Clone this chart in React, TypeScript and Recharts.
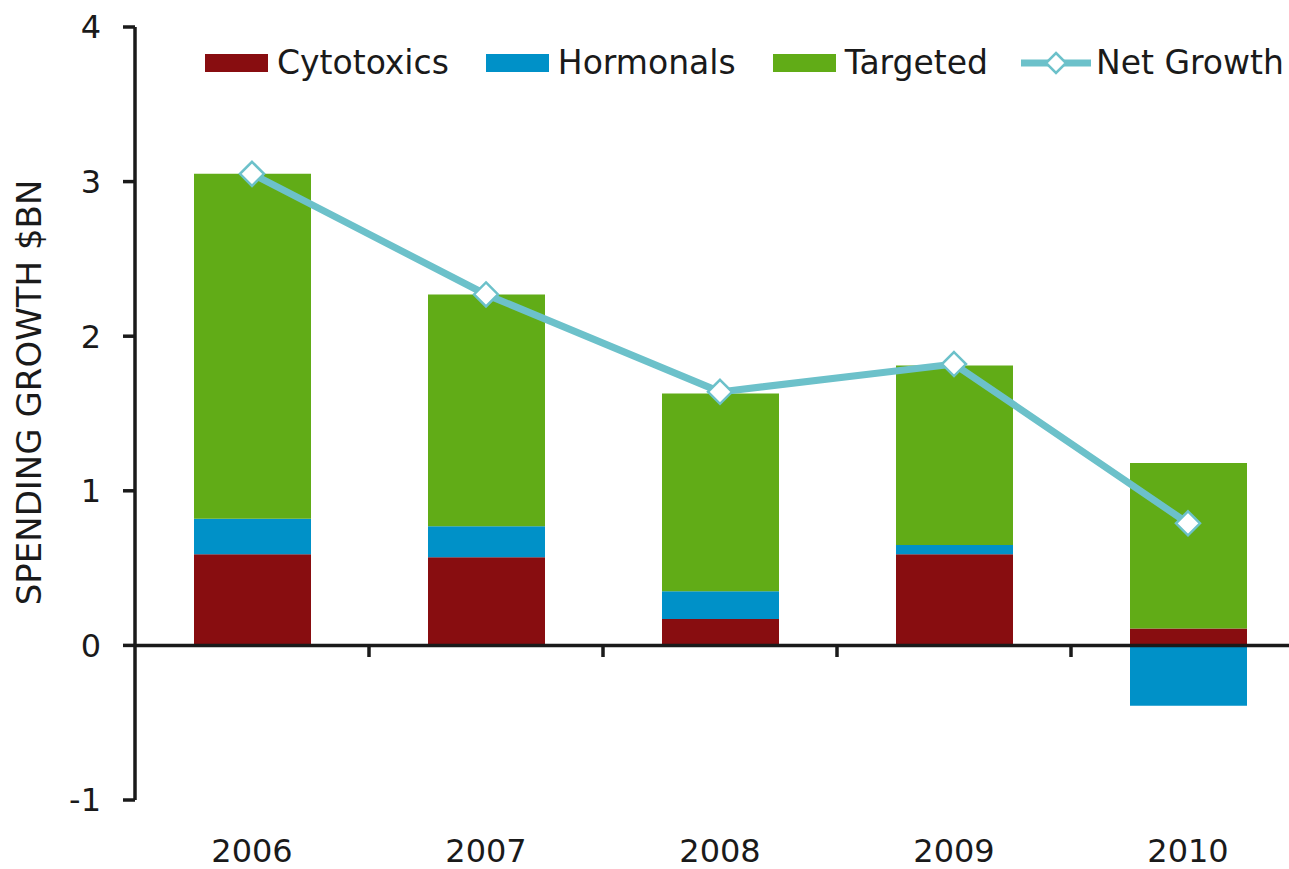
import { ComposedChart, Bar, Line, XAxis, YAxis, ReferenceLine, Legend } from 'recharts'

const YEARS = ['2006', '2007', '2008', '2009', '2010']
const CYTOTOXICS = [0.59, 0.57, 0.17, 0.59, 0.11]
const HORMONALS = [0.23, 0.2, 0.18, 0.06, -0.39]
const TARGETED = [2.23, 1.5, 1.28, 1.16, 1.07]
const NET_GROWTH = [3.05, 2.27, 1.64, 1.82, 0.79]
const Y_TICKS = [-1, 0, 1, 2, 3, 4]
// small tick marks sit on the zero line, at the left edge of these years' bands
const EDGE_YEARS = YEARS.slice(1)

const CYTO_COLOR = '#880d10'
const HORM_COLOR = '#0091c8'
const TARG_COLOR = '#61ac17'
const LINE_COLOR = '#6cc1ca'
const INK = '#1a1a1a'
const FONT = '"DejaVu Sans", Verdana, sans-serif'

const data = YEARS.map((year, i) => ({
  year,
  cytotoxics: CYTOTOXICS[i],
  hormonals: HORMONALS[i],
  targeted: TARGETED[i],
  net: NET_GROWTH[i],
}))

const LEGEND_ITEMS = [
  { name: 'Cytotoxics', color: CYTO_COLOR, kind: 'bar' },
  { name: 'Hormonals', color: HORM_COLOR, kind: 'bar' },
  { name: 'Targeted', color: TARG_COLOR, kind: 'bar' },
  { name: 'Net Growth', color: LINE_COLOR, kind: 'line' },
]

function Diamond(props: { cx?: number; cy?: number; r?: number }) {
  const { cx, cy } = props
  if (cx == null || cy == null) return null
  const r = props.r ?? 12
  return (
    <path
      d={`M${cx},${cy - r}L${cx + r},${cy}L${cx},${cy + r}L${cx - r},${cy}Z`}
      fill="#ffffff"
      stroke={LINE_COLOR}
      strokeWidth={2.5}
    />
  )
}

function ChartLegend() {
  return (
    <div style={{ display: 'flex', alignItems: 'center', fontSize: 33, lineHeight: '37px', color: INK }}>
      {LEGEND_ITEMS.map((item, i) => (
        <div key={item.name} style={{ display: 'flex', alignItems: 'center', marginLeft: i === 0 ? 0 : item.kind === 'line' ? 33 : 37 }}>
          {item.kind === 'bar' ? (
            <span style={{ display: 'inline-block', width: 63, height: 18, background: item.color, marginRight: 9 }} />
          ) : (
            <svg width={70} height={26} style={{ marginRight: 5 }}>
              <line x1={0} y1={13} x2={70} y2={13} stroke={item.color} strokeWidth={7} />
              <Diamond cx={35} cy={13} r={10} />
            </svg>
          )}
          <span>{item.name}</span>
        </div>
      ))}
    </div>
  )
}

function YTitle(props: { viewBox?: { x: number; y: number; width: number; height: number } }) {
  const vb = props.viewBox
  if (!vb) return null
  const cx = vb.x + 29
  const cy = vb.y + vb.height / 2 - 21
  return (
    <text
      x={cx}
      y={cy}
      transform={`rotate(-90, ${cx}, ${cy})`}
      textAnchor="middle"
      dominantBaseline="central"
      fontSize={34}
      fill={INK}
      fontFamily={FONT}
    >
      SPENDING GROWTH $BN
    </text>
  )
}

export default function App() {
  return (
    <div
      style={{
        position: 'absolute',
        left: 0,
        top: 0,
        width: 1289,
        height: 869,
        overflow: 'hidden',
        background: '#ffffff',
        fontFamily: FONT,
      }}
    >
      <ComposedChart
        width={1305}
        height={869}
        data={data}
        stackOffset="sign"
        margin={{ top: 27, right: 0, bottom: 0, left: 0 }}
      >
        <XAxis
          dataKey="year"
          axisLine={false}
          tickLine={false}
          tickSize={0}
          tickMargin={39}
          height={69}
          tick={{ fill: INK, fontSize: 32 }}
        />
        <YAxis
          domain={[-1, 4]}
          ticks={Y_TICKS}
          width={135}
          tickSize={12}
          tickMargin={22}
          axisLine={{ stroke: INK, strokeWidth: 3.5 }}
          tickLine={{ stroke: INK, strokeWidth: 3.5 }}
          tick={{ fill: INK, fontSize: 32 }}
          label={<YTitle />}
        />
        <Legend
          content={<ChartLegend />}
          layout="horizontal"
          verticalAlign="middle"
          align="center"
          wrapperStyle={{ top: 44, left: 205, width: 1100 }}
        />
        <Bar dataKey="cytotoxics" stackId="s" fill={CYTO_COLOR} barSize={117} isAnimationActive={false} />
        <Bar dataKey="hormonals" stackId="s" fill={HORM_COLOR} barSize={117} isAnimationActive={false} />
        <Bar dataKey="targeted" stackId="s" fill={TARG_COLOR} barSize={117} isAnimationActive={false} />
        <ReferenceLine y={0} stroke={INK} strokeWidth={3.5} />
        {EDGE_YEARS.map(year => (
          <ReferenceLine
            key={year}
            position="start"
            segment={[{ x: year, y: 0 }, { x: year, y: -0.075 }]}
            stroke={INK}
            strokeWidth={3.5}
          />
        ))}
        <Line
          dataKey="net"
          type="linear"
          stroke={LINE_COLOR}
          strokeWidth={7}
          dot={(p: any) => <Diamond key={p.index} cx={p.cx} cy={p.cy} />}
          activeDot={false}
          isAnimationActive={false}
        />
      </ComposedChart>
    </div>
  )
}
